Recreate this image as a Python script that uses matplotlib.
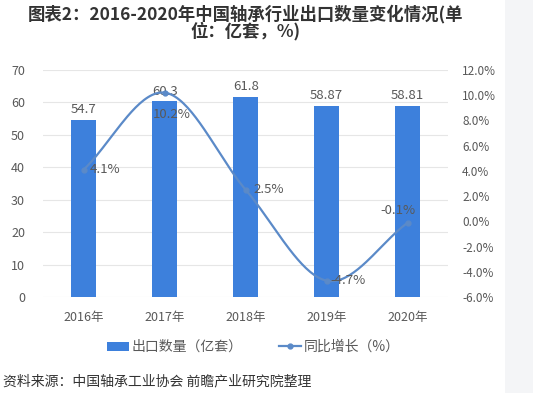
import numpy as np
import matplotlib
matplotlib.use("Agg")
import matplotlib.pyplot as plt
from matplotlib.lines import Line2D
from matplotlib.patches import Patch, Rectangle

plt.rcParams['font.family'] = ['Noto Sans CJK SC', 'DejaVu Sans']
plt.rcParams['axes.unicode_minus'] = False

years = ['2016年', '2017年', '2018年', '2019年', '2020年']
export_qty = [54.7, 60.3, 61.8, 58.87, 58.81]
qty_labels = ['54.7', '60.3', '61.8', '58.87', '58.81']
yoy_growth = [4.1, 10.2, 2.5, -4.7, -0.1]
yoy_labels = ['4.1%', '10.2%', '2.5%', '-4.7%', '-0.1%']
left_ticks = [0, 10, 20, 30, 40, 50, 60, 70]
right_ticks = [-6, -4, -2, 0, 2, 4, 6, 8, 10, 12]

bar_color = '#3d80dc'
line_color = '#5b8ac8'
text_color = '#595959'

fig = plt.figure(figsize=(5.33, 3.93), dpi=100)
fig.patch.set_facecolor('white')
fig.patches.append(Rectangle((505/533, 0), 1 - 505/533, 1, transform=fig.transFigure,
                             facecolor='#f4f5f7', edgecolor='none', zorder=0))

ax = fig.add_axes([0.081, 0.244, 0.760, 0.578])
x = np.arange(len(years))
ax.bar(x, export_qty, width=0.31, color=bar_color, zorder=2)
ax.set_ylim(0, 70)
ax.set_xlim(-0.5, len(years) - 0.5)
ax.set_yticks(left_ticks)
ax.set_xticks(x)
ax.set_xticklabels(years)
ax.grid(axis='y', color='#e6e6e6', linewidth=0.8, zorder=0)
for s in ax.spines.values():
    s.set_visible(False)
ax.tick_params(axis='both', length=0, colors=text_color, labelsize=9)
ax.tick_params(axis='x', pad=10)
ax.tick_params(axis='y', pad=13)
for xi, v, lab in zip(x, export_qty, qty_labels):
    ax.text(xi, v + 1.2, lab, ha='center', va='bottom', fontsize=9.5, color=text_color, zorder=5)

ax2 = ax.twinx()
ax2.set_ylim(-6, 12)
ax2.set_yticks(right_ticks)
ax2.set_yticklabels([f'{t:.1f}%' for t in right_ticks])
for s in ax2.spines.values():
    s.set_visible(False)
ax2.tick_params(axis='y', length=0, colors=text_color, labelsize=8.5, pad=10)

# smooth curve through the data (Catmull-Rom)
pts = np.array(yoy_growth, dtype=float)
xs_all, ys_all = [], []
P = np.concatenate([[2*pts[0]-pts[1]], pts, [2*pts[-1]-pts[-2]]])
for i in range(len(pts) - 1):
    t = np.linspace(0, 1, 40)
    p0, p1, p2, p3 = P[i], P[i+1], P[i+2], P[i+3]
    yy = 0.5*((2*p1) + (-p0+p2)*t + (2*p0-5*p1+4*p2-p3)*t**2 + (-p0+3*p1-3*p2+p3)*t**3)
    xs_all.append(i + t)
    ys_all.append(yy)
ax2.plot(np.concatenate(xs_all), np.concatenate(ys_all), color=line_color, linewidth=1.6, zorder=3)
ax2.plot(x, yoy_growth, 'o', color=line_color, markersize=3.5, zorder=4)

offsets = [(0.08, 0.0, 'left', 'center'),
           (-0.15, -1.7, 'left', 'center'),
           (0.1, 0.0, 'left', 'center'),
           (0.05, 0.0, 'left', 'center'),
           (-0.12, 1.0, 'center', 'center')]
for xi, v, lab, (dx, dy, ha, va) in zip(x, yoy_growth, yoy_labels, offsets):
    ax2.text(xi + dx, v + dy, lab, ha=ha, va=va, fontsize=9.5, color=text_color, zorder=5)

fig.text(0.46, 0.988, '图表2：2016-2020年中国轴承行业出口数量变化情况(单\n位：亿套，%)',
         ha='center', va='top', fontsize=12.5, fontweight='bold', color='#333333',
         linespacing=0.85)

handles = [Patch(facecolor=bar_color, edgecolor='none'),
           Line2D([0], [0], color=line_color, marker='o', markersize=3.5, linewidth=1.6)]
fig.legend(handles, ['出口数量（亿套）', '同比增长（%）'], loc='center',
           bbox_to_anchor=(0.475, 0.117), ncol=2, frameon=False, fontsize=10,
           labelcolor=text_color, handlelength=1.6, handleheight=0.6,
           columnspacing=2.6, handletextpad=0.2)

fig.text(0.006, 0.03, '资料来源：中国轴承工业协会 前瞻产业研究院整理', ha='left', va='center',
         fontsize=10, color='#333333')

fig.savefig('out.png', dpi=100, facecolor='white')
